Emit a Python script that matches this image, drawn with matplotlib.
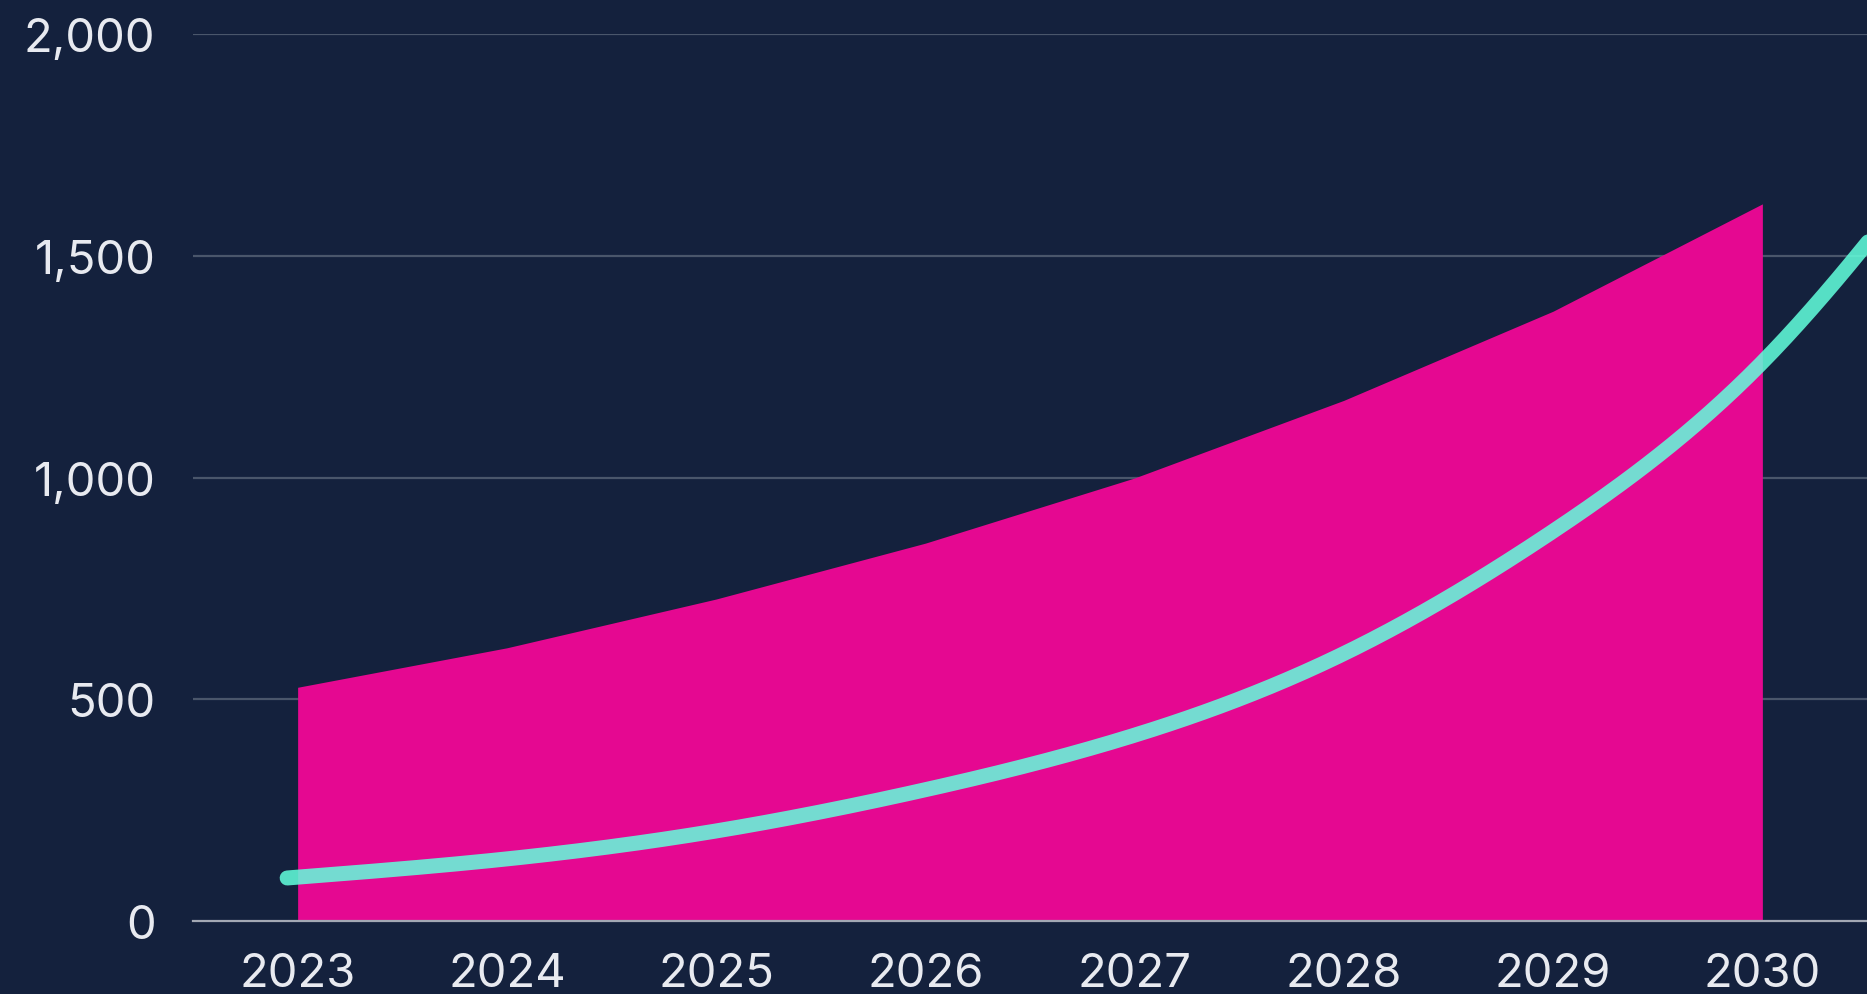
import numpy as np
import matplotlib
matplotlib.use("Agg")
import matplotlib.pyplot as plt
from matplotlib.ticker import FuncFormatter

# data
years = [2023, 2024, 2025, 2026, 2027, 2028, 2029, 2030]
area_values = [527, 616, 726, 852, 999, 1174, 1375, 1617]

line_x = [2022.95, 2024, 2025, 2026, 2027, 2028, 2029, 2030, 2031]
line_values = [97, 140, 203, 296, 419, 603, 879, 1260, 1830]

y_ticks = [0, 500, 1000, 1500, 2000]

BG = "#14213D"
PINK = "#E50891"
TEAL = "#62FFDC"
TEXT = "#E8EAF0"
GRID = "#4A566B"
BASE = "#A3A8B4"


def natural_curve(x, y, n=400):
    """Natural cubic spline through the points, only to draw a smooth line."""
    x = np.asarray(x, float)
    y = np.asarray(y, float)
    k = len(x)
    h = np.diff(x)
    A = np.zeros((k, k))
    b = np.zeros(k)
    A[0, 0] = A[-1, -1] = 1
    for i in range(1, k - 1):
        A[i, i - 1] = h[i - 1]
        A[i, i] = 2 * (h[i - 1] + h[i])
        A[i, i + 1] = h[i]
        b[i] = 3 * ((y[i + 1] - y[i]) / h[i] - (y[i] - y[i - 1]) / h[i - 1])
    c = np.linalg.solve(A, b)
    xs = np.linspace(x[0], x[-1], n)
    idx = np.clip(np.searchsorted(x, xs) - 1, 0, k - 2)
    dx = xs - x[idx]
    bb = (y[1:] - y[:-1]) / h - h * (2 * c[:-1] + c[1:]) / 3
    d = (c[1:] - c[:-1]) / (3 * h)
    ys = y[idx] + bb[idx] * dx + c[idx] * dx**2 + d[idx] * dx**3
    return xs, ys


plt.rcParams["font.family"] = ["Inter", "DejaVu Sans"]

fig = plt.figure(figsize=(18.67, 9.95), dpi=100, facecolor=BG)
ax = fig.add_axes([193 / 1867, 73 / 995, 1 - 193 / 1867, 887 / 995])
ax.set_facecolor(BG)

ax.fill_between(years, area_values, 0, color=PINK, lw=0, zorder=2)

lx, ly = natural_curve(line_x, line_values)
ax.plot(lx, ly, color=TEAL, alpha=0.86, lw=10.8, solid_capstyle="round", zorder=3)

ax.set_xlim(2022.5, 2030.5)
ax.set_ylim(0, 2000)
ax.set_xticks(years)
ax.set_yticks(y_ticks)
ax.yaxis.set_major_formatter(FuncFormatter(lambda v, p: f"{int(v):,}"))

for v in y_ticks[1:]:
    ax.axhline(v, color=GRID, lw=1.6, zorder=1)
ax.axhline(0, color=BASE, lw=1.6, zorder=4, clip_on=False)

for s in ax.spines.values():
    s.set_visible(False)
ax.tick_params(axis="both", length=0, labelsize=34, labelcolor=TEXT)
ax.tick_params(axis="y", pad=27)
ax.tick_params(axis="x", pad=22)

fig.savefig("out.png", dpi=100, facecolor=BG)
